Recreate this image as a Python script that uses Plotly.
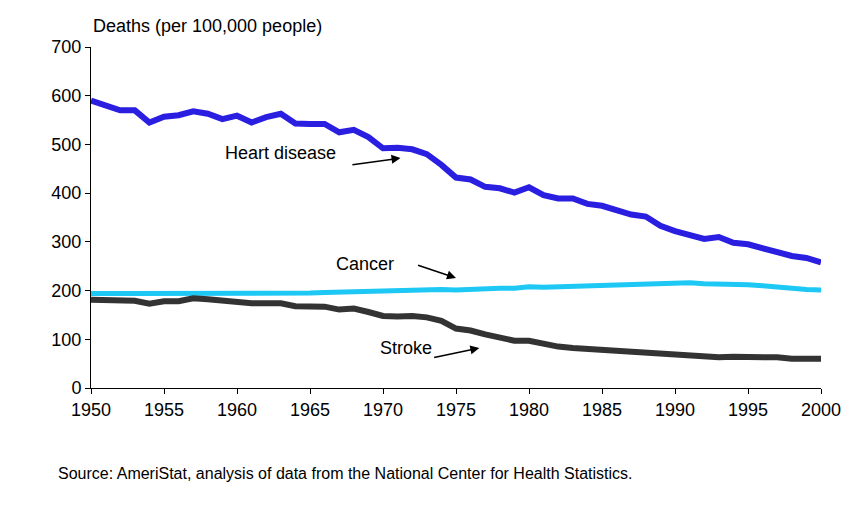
import plotly.graph_objects as go

years = list(range(1950, 2001))
heart = [590, 580, 570, 570, 545, 557, 560, 568, 563, 552, 559, 545, 556, 563, 543, 542, 542, 525, 530, 515,
         492, 493, 490, 480, 458, 432, 428, 413, 410, 401, 412, 396, 389, 389, 378, 374, 365, 356, 352, 333,
         322, 315, 306, 310, 298, 295, 287, 279, 271, 267, 258]
cancer = [194, 193, 194, 194, 194, 194, 195, 195, 194, 193, 194, 194, 194, 194, 194, 195, 196, 197, 198, 198,
          199, 200, 201, 201, 202, 201, 203, 204, 205, 205, 208, 207, 208, 209, 210, 211, 211, 212, 212, 213,
          215, 216, 214, 214, 213, 212, 210, 207, 203, 202, 201]
stroke = [181, 181, 180, 179, 173, 178, 178, 184, 182, 179, 178, 174, 174, 174, 168, 167, 167, 161, 163, 156,
          148, 147, 148, 145, 138, 122, 118, 110, 103, 97, 97, 90, 85, 82, 80, 78, 75, 73, 72, 70,
          67, 65, 62, 63, 64, 64, 64, 63, 60, 61, 60]

fig = go.Figure()
fig.add_trace(go.Scatter(x=years, y=cancer, mode="lines", line=dict(color="#1ec8f5", width=5)))
fig.add_trace(go.Scatter(x=years, y=stroke, mode="lines", line=dict(color="#333333", width=6)))
fig.add_trace(go.Scatter(x=years, y=heart, mode="lines", line=dict(color="#2a1ee0", width=6)))

labels = [("Heart disease", 1963, 483, 1967.8, 458, 1971.2, 472),
          ("Cancer", 1968.8, 255, 1972.3, 253, 1975, 226),
          ("Stroke", 1971.6, 82, 1973.4, 62, 1976.6, 82)]
for text, tx, ty, ax0, ay0, ax1, ay1 in labels:
    fig.add_annotation(x=tx, y=ty, text=text, showarrow=False, font=dict(size=18, color="black"))
    fig.add_annotation(x=ax1, y=ay1, ax=ax0, ay=ay0, axref="x", ayref="y", text="",
                       showarrow=True, arrowhead=2, arrowsize=1.2, arrowwidth=1.5, arrowcolor="black")

fig.add_annotation(x=0, y=1.025, xref="paper", yref="paper", xanchor="left", yanchor="bottom",
                   text="Deaths (per 100,000 people)", showarrow=False, font=dict(size=18, color="black"))
fig.add_annotation(x=-0.048, y=-0.22, xref="paper", yref="paper", xanchor="left", yanchor="top",
                   text="Source: AmeriStat, analysis of data from the National Center for Health Statistics.",
                   showarrow=False, font=dict(size=16, color="black"))

fig.update_layout(
    width=864, height=515, showlegend=False,
    paper_bgcolor="white", plot_bgcolor="white",
    margin=dict(l=83, r=51, t=39, b=135),
    font=dict(family="Liberation Sans, Arial", size=18, color="black"),
    xaxis=dict(range=[1950, 2000], dtick=5, showgrid=False, showline=True, linecolor="black",
               ticks="outside", ticklen=5, tickcolor="black"),
    yaxis=dict(range=[0, 700], dtick=100, showgrid=False, showline=True, linecolor="black",
               ticks="outside", ticklen=5, tickcolor="black", zeroline=False),
)
fig.write_html("out.html")
